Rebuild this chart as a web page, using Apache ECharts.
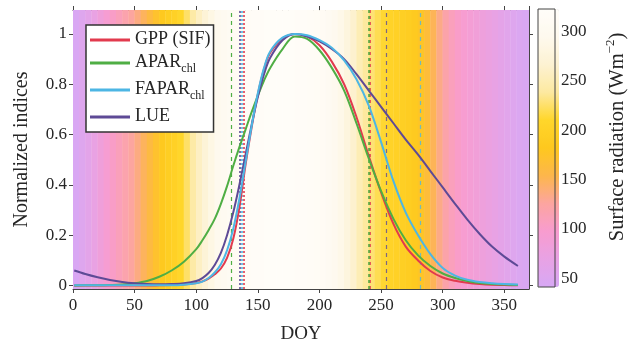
<!DOCTYPE html>
<html>
<head>
<meta charset="utf-8">
<script src="https://cdn.jsdelivr.net/npm/echarts@6/dist/echarts.min.js"></script>
<style>
  html, body { margin: 0; background: #fff; }
  #chart { width: 629px; height: 349px; }
</style>
</head>
<body>
<div id="chart"></div>
<script>
// day of year sample points
const doy = [1, 10, 20, 30, 40, 50, 60, 70, 80, 90,
  100, 105, 110, 115, 120, 125, 130, 135, 140, 145, 150, 155, 160,
  170, 180, 190, 200, 210, 220, 230, 240, 250, 260, 270, 280, 290, 300, 310, 320, 330, 340, 350, 361];

const gpp = [0, 0, 0, 0, 0, 0, 0, 0.001, 0.002, 0.004,
  0.01, 0.017, 0.028, 0.045, 0.068, 0.11, 0.185, 0.31, 0.48, 0.63, 0.76, 0.86, 0.925,
  0.98, 1.0, 0.99, 0.955, 0.89, 0.8, 0.67, 0.515, 0.37, 0.245, 0.155, 0.1, 0.058, 0.032, 0.019, 0.011, 0.006, 0.003, 0.002, 0.001];

const apar = [0, 0.001, 0.001, 0.002, 0.004, 0.009, 0.018, 0.035, 0.06, 0.095,
  0.145, 0.18, 0.22, 0.265, 0.325, 0.395, 0.475, 0.55, 0.62, 0.69, 0.755, 0.815, 0.865,
  0.94, 0.99, 0.98, 0.935, 0.865, 0.775, 0.645, 0.505, 0.375, 0.265, 0.18, 0.12, 0.078, 0.048, 0.03, 0.018, 0.01, 0.006, 0.004, 0.002];

const fapar = [0.001, 0.001, 0.001, 0.001, 0.001, 0.001, 0.001, 0.001, 0.001, 0.003,
  0.009, 0.016, 0.03, 0.052, 0.085, 0.14, 0.225, 0.345, 0.49, 0.635, 0.765, 0.865, 0.93,
  0.985, 1.0, 0.995, 0.975, 0.945, 0.895, 0.82, 0.715, 0.57, 0.415, 0.29, 0.2, 0.125, 0.07, 0.04, 0.023, 0.014, 0.009, 0.006, 0.004];

const lue = [0.06, 0.046, 0.033, 0.022, 0.014, 0.009, 0.006, 0.005, 0.006, 0.009,
  0.018, 0.03, 0.05, 0.082, 0.13, 0.2, 0.29, 0.4, 0.52, 0.64, 0.75, 0.84, 0.905,
  0.975, 1.0, 0.99, 0.97, 0.94, 0.9, 0.84, 0.775, 0.71, 0.645, 0.58, 0.52, 0.455, 0.39, 0.325, 0.262, 0.205, 0.155, 0.115, 0.078];

// surface radiation, 5-day bins starting at DOY 0
const radiation = [45, 52, 61, 71, 82, 93, 102, 110, 118, 126,
  136, 148, 160, 172, 184, 194, 200, 210, 225, 242,
  258, 272, 285, 295, 302, 307, 311, 314, 316, 318,
  319, 320, 320, 320, 320, 320, 319, 318, 316, 313,
  309, 304, 298, 290, 279, 265, 250, 238, 228, 220,
  212, 205, 200, 196, 192, 186, 177, 165, 150, 134,
  120, 109, 101, 95, 90, 85, 80, 75, 69, 63,
  57, 52, 47, 44];
const binLabels = radiation.map((r, i) => String(i * 5));

// start / end of season markers
const sos = { gpp: 138.5, apar: 128, fapar: 137, lue: 135.5 };
const eos = { gpp: 241, apar: 240, fapar: 282, lue: 254 };

const yTicks = [0, 0.2, 0.4, 0.6, 0.8, 1];
const radTicks = [50, 100, 150, 200, 250, 300];

const font = "'Liberation Serif', 'Times New Roman', serif";
const ink = "#262626";
const axisCol = "#444";
const colors = { gpp: "#e23a4e", apar: "#4fae44", fapar: "#4db6e4", lue: "#5e4a96" };

const chart = echarts.init(document.getElementById("chart"));

function lineSeries(name, key, values) {
  const thickEos = key === "gpp" || key === "apar";
  return {
    name: name,
    type: "line",
    xAxisIndex: 0,
    yAxisIndex: 0,
    data: doy.map((d, i) => [d, values[i]]),
    smooth: 0.35,
    showSymbol: false,
    z: 5,
    lineStyle: { color: colors[key], width: 2 },
    itemStyle: { color: colors[key] },
    markLine: {
      silent: true,
      symbol: ["none", "none"],
      label: { show: false },
      animation: false,
      data: [
        { xAxis: sos[key], lineStyle: { color: colors[key], width: key === "apar" ? 1.2 : 1.6, type: key === "apar" ? [4, 4] : [2, 2] } },
        { xAxis: eos[key], lineStyle: { color: colors[key], width: thickEos ? 2 : 1.2, type: thickEos ? [3, 3] : [4, 4], opacity: 0.8 } }
      ]
    }
  };
}

const tickLine = { lineStyle: { color: axisCol, width: 1 } };

chart.setOption({
  backgroundColor: "#fff",
  animation: false,
  textStyle: { fontFamily: font },
  grid: [
    { left: 73, top: 10, width: 456, height: 279, z: 3 },
    { left: 73, top: 10, width: 456, height: 279 },
    { left: 538, top: 9, width: 21, height: 278, show: true, borderColor: axisCol, borderWidth: 1, backgroundColor: "transparent", z: 10 }
  ],
  legend: {
    data: ["GPP (SIF)", "APAR", "FAPAR", "LUE"],
    orient: "vertical",
    left: 86,
    top: 25,
    icon: "rect",
    itemWidth: 40,
    itemHeight: 3,
    itemGap: 5,
    padding: [5, 3, 7, 4],
    backgroundColor: "#fff",
    borderColor: "#333",
    borderWidth: 1.5,
    selectedMode: false,
    formatter: function (name) {
      if (name === "APAR" || name === "FAPAR") return "{m|" + name + "}{s|chl}";
      return "{m|" + name + "}";
    },
    textStyle: {
      fontFamily: font,
      color: ink,
      rich: {
        m: { fontFamily: font, fontSize: 18, color: ink, lineHeight: 20, verticalAlign: "top" },
        s: { fontFamily: font, fontSize: 12, color: ink, lineHeight: 12, verticalAlign: "top", padding: [10, 0, 0, 0] }
      }
    }
  },
  visualMap: {
    type: "continuous",
    seriesIndex: 0,
    dimension: 2,
    min: 41,
    max: 323,
    calculable: false,
    hoverLink: false,
    orient: "vertical",
    left: 538,
    top: 9,
    itemWidth: 21,
    itemHeight: 278,
    padding: 0,
    text: null,
    inRange: {
      color: ["#d7a8f5", "#e8a2e4", "#f89ccf", "#fca5a0", "#fdb64c", "#fec81e",
        "#ffd62a", "#fde9a0", "#fdf2d2", "#fef9ee", "#fffdf9"]
    }
  },
  xAxis: [
    {
      gridIndex: 0, type: "value", min: 0, max: 370, interval: 50, position: "bottom",
      axisLine: { show: true, onZero: false, lineStyle: { color: axisCol } },
      axisTick: Object.assign({ show: true, length: 4 }, tickLine),
      axisLabel: { fontFamily: font, fontSize: 17, color: ink, margin: 8 },
      splitLine: { show: false },
      name: "DOY", nameLocation: "middle", nameGap: 36,
      nameTextStyle: { fontFamily: font, fontSize: 19, color: ink }
    },
    {
      gridIndex: 0, type: "value", min: 0, max: 370, interval: 50, position: "top",
      axisLine: { show: true, onZero: false, lineStyle: { color: axisCol } },
      axisTick: Object.assign({ show: true, length: 4 }, tickLine),
      axisLabel: { show: false },
      splitLine: { show: false }
    },
    { gridIndex: 1, type: "category", data: binLabels, show: false, boundaryGap: true },
    { gridIndex: 2, type: "value", show: false }
  ],
  yAxis: [
    {
      gridIndex: 0, type: "value", min: -0.0135, max: 1.095, position: "left",
      axisLine: { show: true, onZero: false, lineStyle: { color: axisCol } },
      axisTick: Object.assign({ show: true, length: 4, customValues: yTicks }, tickLine),
      axisLabel: { fontFamily: font, fontSize: 17, color: ink, margin: 6, customValues: yTicks,
        formatter: v => String(+Number(v).toFixed(1)) },
      splitLine: { show: false },
      name: "Normalized indices", nameLocation: "middle", nameGap: 41, nameRotate: 90,
      nameTextStyle: { fontFamily: font, fontSize: 20, color: ink }
    },
    {
      gridIndex: 0, type: "value", min: -0.0135, max: 1.095, position: "right",
      axisLine: { show: true, onZero: false, lineStyle: { color: axisCol } },
      axisTick: Object.assign({ show: true, length: 4, customValues: yTicks }, tickLine),
      axisLabel: { show: false },
      splitLine: { show: false }
    },
    { gridIndex: 1, type: "value", min: 0, max: 1, show: false },
    {
      gridIndex: 2, type: "value", min: 41, max: 323, position: "right",
      axisLine: { show: false },
      axisTick: Object.assign({ show: true, length: 3, customValues: radTicks }, tickLine),
      axisLabel: { fontFamily: font, fontSize: 17, color: ink, margin: 6, customValues: radTicks },
      splitLine: { show: false },
      name: "{t|Surface radiation (Wm}{u|−2}{t|)}", nameLocation: "middle", nameGap: 49, nameRotate: 90,
      nameTextStyle: {
        fontFamily: font, color: ink,
        padding: [0, 0, 0, 22],
        rich: {
          t: { fontFamily: font, fontSize: 20.5, color: ink, lineHeight: 24, verticalAlign: "bottom" },
          u: { fontFamily: font, fontSize: 13, color: ink, lineHeight: 24, verticalAlign: "top", padding: [0, 0, 9, 0] }
        }
      }
    }
  ],
  series: [
    {
      type: "bar",
      xAxisIndex: 2,
      yAxisIndex: 2,
      data: radiation.map((r, i) => [i, 1, r]),
      barWidth: "106%",
      silent: true,
      z: 0
    },
    lineSeries("GPP (SIF)", "gpp", gpp),
    lineSeries("APAR", "apar", apar),
    lineSeries("LUE", "lue", lue),
    lineSeries("FAPAR", "fapar", fapar)
  ]
});
</script>
</body>
</html>
